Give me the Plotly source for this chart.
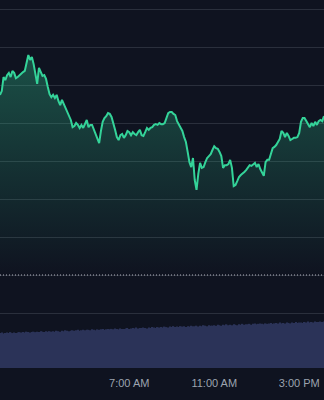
import pandas as pd
import plotly.graph_objects as go

# ---- data ----
start_time = "2024-01-01 00:55"
interval = "5min"

prices = [
    107.74, 107.84, 108.21, 108.13, 108.26, 108.32, 108.21, 108.37, 108.32, 108.18,
    108.21, 108.26, 108.29, 108.34, 108.37, 108.63, 108.79, 108.66, 108.74, 108.55,
    108.26, 108.03, 108.45, 108.34, 108.24, 108.26, 108.16, 107.95, 107.76, 107.68,
    107.74, 107.66, 107.74, 107.58, 107.47, 107.61, 107.50, 107.39, 107.26, 107.18,
    107.08, 106.89, 106.92, 107.00, 106.95, 106.87, 106.95, 106.87, 107.00, 107.08,
    106.89, 106.95, 106.95, 106.84, 106.74, 106.63, 106.47, 106.79, 107.03, 107.13,
    107.18, 107.26, 107.24, 107.16, 106.95, 106.82, 106.63, 106.55, 106.68, 106.71,
    106.61, 106.68, 106.79, 106.76, 106.68, 106.76, 106.71, 106.68, 106.76, 106.82,
    106.68, 106.66, 106.76, 106.87, 106.82, 106.87, 106.89, 106.95, 106.97, 106.95,
    107.00, 106.97, 106.97, 107.00, 107.13, 107.26, 107.29, 107.29, 107.24, 107.21,
    107.05, 106.97, 106.89, 106.79, 106.63, 106.50, 106.24, 105.97, 105.84, 106.08,
    105.50, 105.24, 105.66, 105.95, 105.82, 105.84, 105.97, 106.08, 106.13, 106.18,
    106.29, 106.39, 106.34, 106.32, 106.24, 106.13, 105.82, 105.89, 105.89, 105.92,
    106.03, 105.82, 105.34, 105.37, 105.47, 105.58, 105.63, 105.66, 105.71, 105.76,
    105.84, 105.89, 105.87, 105.92, 105.95, 105.84, 105.92, 105.79, 105.68, 105.61,
    105.97, 106.03, 106.03, 106.16, 106.34, 106.37, 106.42, 106.50, 106.58, 106.79,
    106.74, 106.63, 106.74, 106.66, 106.55, 106.58, 106.61, 106.61, 106.63, 106.74,
    107.03, 107.13, 107.13, 107.05, 106.97, 106.89, 107.00, 106.92, 107.03, 106.95,
    107.05, 107.08, 107.05, 107.18,
]

volumes = [
    76, 77, 75, 76, 77, 76, 78, 76, 77, 76,
    77, 78, 77, 78, 77, 79, 78, 77, 78, 79,
    78, 79, 78, 80, 79, 78, 80, 79, 80, 79,
    80, 79, 81, 80, 79, 81, 80, 82, 81, 80,
    81, 82, 81, 82, 83, 81, 82, 83, 82, 83,
    83, 82, 84, 83, 82, 84, 83, 84, 85, 83,
    84, 85, 84, 85, 84, 86, 85, 84, 86, 85,
    85, 86, 87, 85, 86, 87, 86, 88, 86, 87,
    87, 88, 87, 86, 88, 87, 89, 88, 87, 89,
    88, 89, 88, 90, 89, 88, 90, 89, 91, 89,
    90, 89, 91, 90, 91, 89, 91, 90, 92, 91,
    91, 92, 90, 92, 91, 93, 92, 91, 93, 92,
    92, 93, 92, 94, 93, 92, 94, 93, 95, 93,
    94, 93, 95, 94, 93, 95, 94, 96, 94, 95,
    95, 96, 94, 96, 97, 95, 96, 97, 96, 95,
    97, 96, 97, 98, 96, 97, 98, 97, 99, 97,
    98, 97, 99, 98, 97, 99, 98, 100, 98, 99,
    99, 98, 100, 99, 101, 99, 100, 99, 101, 100,
    100, 101, 100, 101,
]

previous_close = 103.0
tick_times = ["2024-01-01 07:00", "2024-01-01 11:00", "2024-01-01 15:00"]
tick_labels = ["7:00 AM", "11:00 AM", "3:00 PM"]
x_range = ["2024-01-01 00:55", "2024-01-01 16:10"]
price_range = [100.553, 110.237]
volume_range = [0, 800]

times = pd.date_range(start=start_time, periods=len(prices), freq=interval)

BG = "#0f1320"
GREEN = "#34d399"

fig = go.Figure()

fig.add_trace(go.Scatter(
    x=times, y=prices, mode="lines",
    line=dict(color=GREEN, width=2),
    fill="tozeroy",
    fillgradient=dict(
        type="vertical",
        colorscale=[[0, "rgba(52,211,153,0)"], [1, "rgba(52,211,153,0.32)"]],
        start=previous_close, stop=max(prices),
    ),
    hoverinfo="skip", showlegend=False,
))

fig.add_trace(go.Bar(
    x=times, y=volumes, yaxis="y2",
    marker=dict(color="#2b3358", line=dict(width=0)),
    hoverinfo="skip", showlegend=False,
))

fig.add_shape(
    type="line", xref="paper", x0=0, x1=1, yref="y", y0=previous_close, y1=previous_close,
    line=dict(color="rgba(230,232,240,0.75)", width=1, dash="1px,2px"),
)

fig.update_layout(
    width=324, height=400,
    margin=dict(l=0, r=0, t=0, b=32),
    paper_bgcolor=BG, plot_bgcolor=BG,
    bargap=0.25,
    font=dict(family="Liberation Sans, Arial, sans-serif", color="#9ca3af", size=11),
    xaxis=dict(
        type="date", range=x_range, tickvals=tick_times, ticktext=tick_labels,
        showgrid=False, zeroline=False, showline=False, ticks="",
        ticklabelstandoff=7,
        tickfont=dict(size=11, color="#9ca3af"),
    ),
    yaxis=dict(
        range=price_range, dtick=1, showticklabels=False, zeroline=False,
        showgrid=True, gridcolor="#2a2f3c", gridwidth=1, showline=False,
    ),
    yaxis2=dict(
        range=volume_range, overlaying="y", showgrid=False, showticklabels=False,
        zeroline=False, showline=False,
    ),
)

fig.write_html("out.html")
